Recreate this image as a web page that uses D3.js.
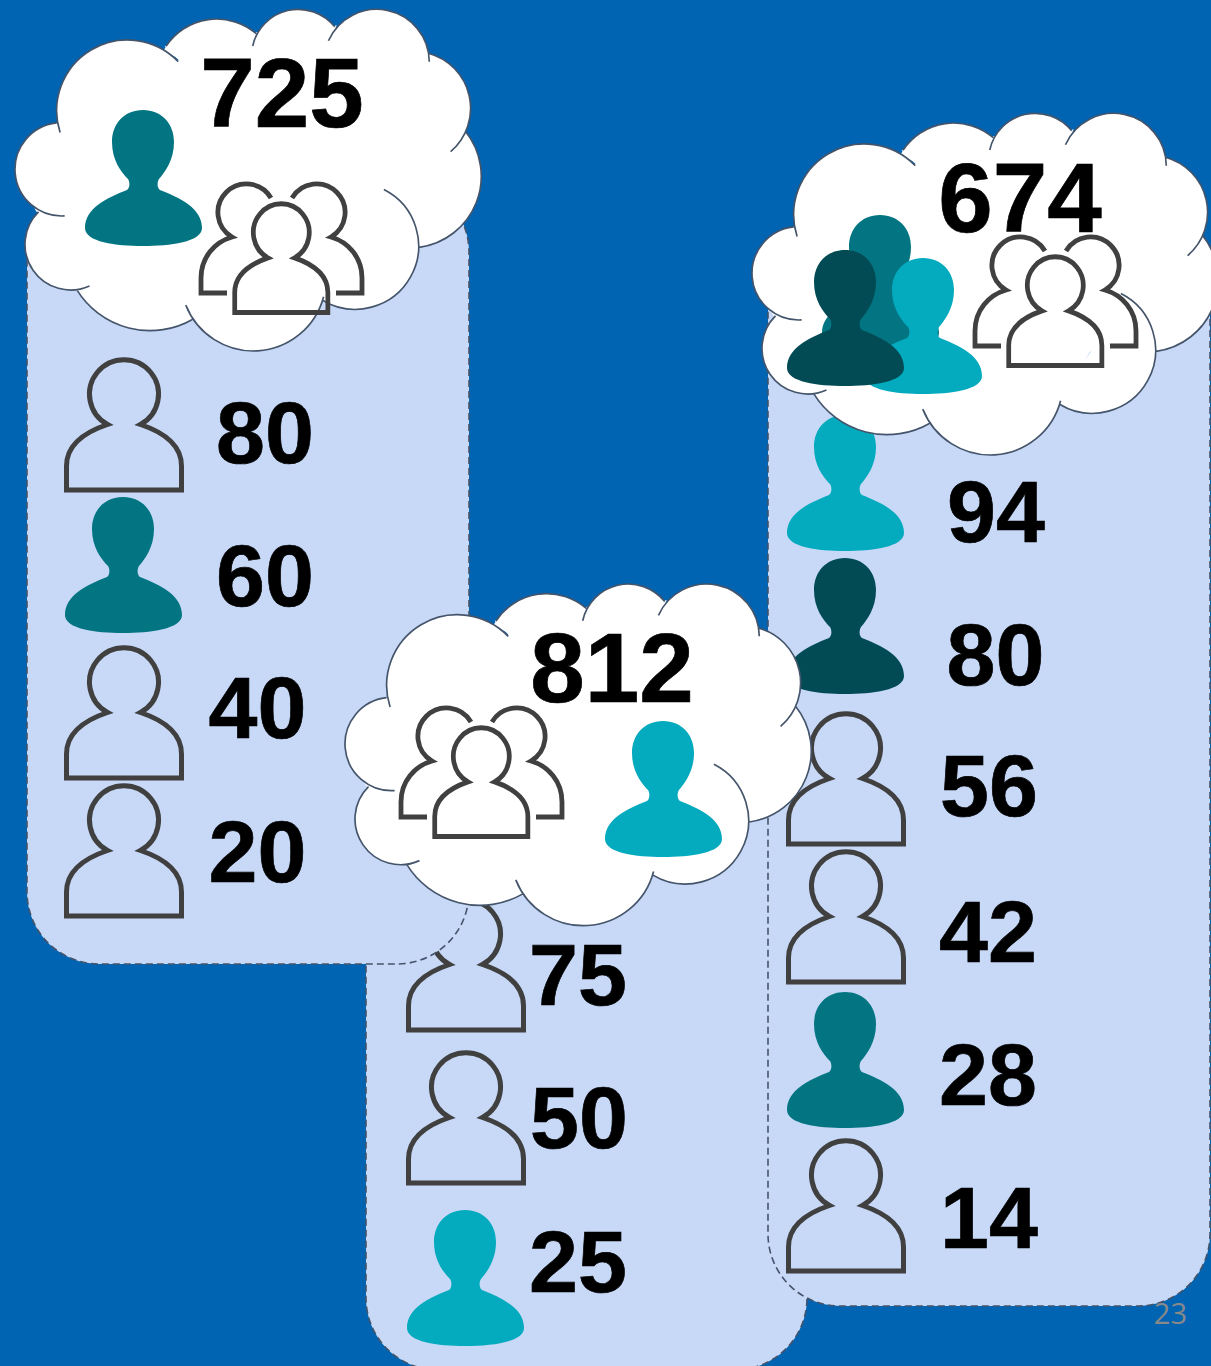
<!DOCTYPE html>
<html>
<head>
<meta charset="utf-8">
<title>Group totals</title>
<script src="https://cdn.jsdelivr.net/npm/d3@7"></script>
<style>
    html, body { margin: 0; padding: 0; background: #0064b3; }
    svg { display: block; }
    text { font-family: "Liberation Sans", Arial, sans-serif; font-weight: bold; fill: #000; stroke: #000; stroke-width: 0.7px; }
</style>
</head>
<body>
<div id="chart"></div>
<script>
// values
const totals = [725, 812, 674];
const leftValues = [80, 60, 40, 20];
const leftIcons = ["outline", "teal", "outline", "outline"];
const centerValues = [75, 50, 25];
const centerIcons = ["outline", "outline", "cyan"];
const rightValues = [94, 80, 56, 42, 28, 14];
const rightIcons = ["cyan", "dark", "outline", "outline", "teal", "outline"];
const centerCloudIcons = ["cyan"];
const leftCloudIcons = ["teal"];
const rightCloudIcons = ["teal", "cyan", "dark"];

const width = 1211, height = 1366;

const iconColor = d3.scaleOrdinal()
    .domain(["teal", "cyan", "dark"])
    .range(["#037582", "#04aabd", "#024b55"]);

const PERSON_FILLED = "M58,0 C77,0 89,14 89,32 C89,50 80,62 74,69 C72,72 72,78 75,80 C95,88 117,98 117,118 C117,132 85,136 58,136 C31,136 0,132 0,118 C0,98 22,88 42,80 C45,78 45,72 43,69 C36,62 27,50 27,32 C27,14 39,0 58,0 Z";
const PERSON_OUTLINE = "M1.5,133 V109 C1.5,88 20,75 42.5,67.5 A34.5,34.5 0 1 1 75.5,67.5 C98,75 116.5,88 116.5,109 V133 Z";
const PERSON_BACK = "M73,16 A28.5,28.5 0 1 0 34,55 C17,60 3,75 3,96 V111 H29";

const svg = d3.select("#chart").append("svg")
    .attr("width", width)
    .attr("height", height)
    .style("background-color", "#0064b3");

// cloud lobes: circle and the two ends of each arc, measured on the first cloud (x3 zoom px)
const cloudLobes = [
    { c: [382, 332], r: 212, from: [178, 398], to: [540, 180] },
    { c: [650, 239], r: 182, from: [500, 140], to: [770, 100] },
    { c: [895, 168], r: 140, from: [758, 138], to: [1005, 80] },
    { c: [1130, 186], r: 158, from: [985, 122], to: [1288, 185] },
    { c: [1241, 325], r: 171, from: [1285, 160], to: [1352, 455] },
    { c: [1229, 529], r: 215, from: [1395, 395], to: [1258, 742] },
    { c: [1066, 738], r: 190, from: [1150, 572], to: [965, 905] },
    { c: [760, 835], r: 218, from: [970, 890], to: [556, 916] },
    { c: [450, 734], r: 258, from: [580, 960], to: [232, 868] },
    { c: [212, 733], r: 137, from: [268, 857], to: [110, 630] },
    { c: [185, 508], r: 140, from: [194, 650], to: [170, 372] }
];

function lobeAngle(l, p) {
    return Math.atan2(p[1] - l.c[1], p[0] - l.c[0]);
}

function cloudPaths() {
    const wedges = d3.path(), line = d3.path(), body = d3.path(), core = d3.path();
    cloudLobes.forEach((l, i) => {
        const a0 = lobeAngle(l, l.from), a1 = lobeAngle(l, l.to);
        // wedges run a little past the arc ends so no gap is left where lobes meet
        wedges.moveTo(l.c[0], l.c[1]);
        wedges.arc(l.c[0], l.c[1], l.r, a0 - 0.08, a1 + 0.08);
        wedges.closePath();
        line.moveTo(l.c[0] + l.r * Math.cos(a0), l.c[1] + l.r * Math.sin(a0));
        line.arc(l.c[0], l.c[1], l.r, a0, a1);
        // the middle of the cloud, through the arc ends and the lobe centres
        if (i === 0) {
            body.moveTo(l.from[0], l.from[1]);
            core.moveTo(l.c[0], l.c[1]);
        } else {
            body.lineTo(l.from[0], l.from[1]);
            core.lineTo(l.c[0], l.c[1]);
        }
        body.lineTo(l.to[0], l.to[1]);
    });
    body.closePath();
    core.closePath();
    return { wedges: wedges.toString(), body: body.toString(), core: core.toString(), line: line.toString() };
}
const cloudShape = cloudPaths();

function drawPanel(x, y, w, h) {
    svg.append("rect")
        .attr("x", x).attr("y", y)
        .attr("width", w).attr("height", h)
        .attr("rx", 72).attr("ry", 72)
        .attr("fill", "#c8d9f7")
        .attr("stroke", "#44546a")
        .attr("stroke-width", 1.6)
        .attr("stroke-dasharray", "7,4");
}

function drawPerson(parent, kind, x, y) {
    const g = parent.append("g").attr("transform", `translate(${x},${y})`);
    if (kind === "outline") {
        g.append("path")
            .attr("d", PERSON_OUTLINE)
            .attr("fill", "none")
            .attr("stroke", "#404040")
            .attr("stroke-width", 5)
            .attr("stroke-miterlimit", 10);
    } else {
        g.append("path")
            .attr("d", PERSON_FILLED)
            .attr("fill", iconColor(kind));
    }
}

function drawGroupIcon(parent, x, y) {
    const g = parent.append("g")
        .attr("transform", `translate(${x},${y})`)
        .attr("fill", "none")
        .attr("stroke", "#404040")
        .attr("stroke-width", 4.8)
        .attr("stroke-miterlimit", 10);
    g.append("path").attr("d", PERSON_BACK);
    g.append("path").attr("d", PERSON_BACK).attr("transform", "translate(167,0) scale(-1,1)");
    g.append("path")
        .attr("d", PERSON_OUTLINE)
        .attr("transform", "translate(35.5,19.5) scale(0.81,0.835)")
        .attr("stroke-width", 4.8 / 0.82);
}

function drawRows(values, icons, iconX, iconTops, labelXs, labelYs) {
    const yIcon = d3.scaleOrdinal().domain(values).range(iconTops);
    const xLabel = d3.scaleOrdinal().domain(values).range(labelXs);
    const yLabel = d3.scaleOrdinal().domain(values).range(labelYs);
    const g = svg.append("g");
    values.forEach((v, i) => drawPerson(g, icons[i], iconX, yIcon(v)));
    g.selectAll("text")
        .data(values)
        .enter().append("text")
        .attr("x", d => xLabel(d))
        .attr("y", d => yLabel(d))
        .attr("text-anchor", "middle")
        .style("font-size", "88px")
        .text(d => d);
}

function drawCloud(x, y, total, totalX, totalY) {
    const g = svg.append("g").attr("transform", `translate(${x},${y})`);
    const s = g.append("g").attr("transform", "scale(0.3333)");
    s.append("path").attr("d", cloudShape.core)
        .attr("fill", "#fff")
        .attr("stroke", "#fff")
        .attr("stroke-width", 6);
    s.append("path").attr("d", cloudShape.body)
        .attr("fill", "#fff")
        .attr("stroke", "#fff")
        .attr("stroke-width", 6);
    s.append("path").attr("d", cloudShape.wedges).attr("fill", "#fff");
    s.append("path").attr("d", cloudShape.line)
        .attr("fill", "none")
        .attr("stroke", "#44546a")
        .attr("stroke-width", 5);
    g.append("text")
        .attr("x", totalX)
        .attr("y", totalY)
        .attr("text-anchor", "middle")
        .style("font-size", "98px")
        .text(total);
    return g;
}

// stacking order follows the picture: centre panel is under both neighbours
drawPanel(366, 680, 441, 690);
drawRows(centerValues, centerIcons, 407, [897, 1050, 1210], [578, 579, 578], [1005, 1148, 1292]);

drawPanel(768, 240, 442, 1066);
drawRows(rightValues, rightIcons, 787, [415, 558, 711, 849, 992, 1138],
    [996, 995.5, 989, 988, 988, 989], [542, 685, 816, 962, 1105, 1248]);

drawPanel(27, 180, 442, 784);
drawRows(leftValues, leftIcons, 65, [357, 497, 645, 783],
    [265, 265, 257.5, 257.5], [463, 606, 738, 882]);

// clouds, drawn with the first one's offsets
const cloud1 = drawCloud(0, 0, totals[0], 282, 127);
leftCloudIcons.forEach(k => drawPerson(cloud1, k, 85, 110));
drawGroupIcon(cloud1, 198, 182);

const cloud3 = drawCloud(737, 104, totals[2], 283, 128);
const c3x = d3.scaleOrdinal().domain(rightCloudIcons).range([85, 128, 50]);
const c3y = d3.scaleOrdinal().domain(rightCloudIcons).range([111, 154, 146]);
rightCloudIcons.forEach(k => drawPerson(cloud3, k, c3x(k), c3y(k)));
drawGroupIcon(cloud3, 235, 131);

const cloud2 = drawCloud(330, 574.7, totals[1], 282, 127.3);
drawGroupIcon(cloud2, 68, 131.3);
centerCloudIcons.forEach(k => drawPerson(cloud2, k, 275, 146.3));

svg.append("text")
    .attr("x", 1187)
    .attr("y", 1324)
    .attr("text-anchor", "end")
    .style("font-family", "'Open Sans', 'Noto Sans', sans-serif")
    .style("font-weight", "normal")
    .style("font-size", "29px")
    .style("fill", "#898989")
    .style("stroke", "none")
    .text("23");
</script>
</body>
</html>
